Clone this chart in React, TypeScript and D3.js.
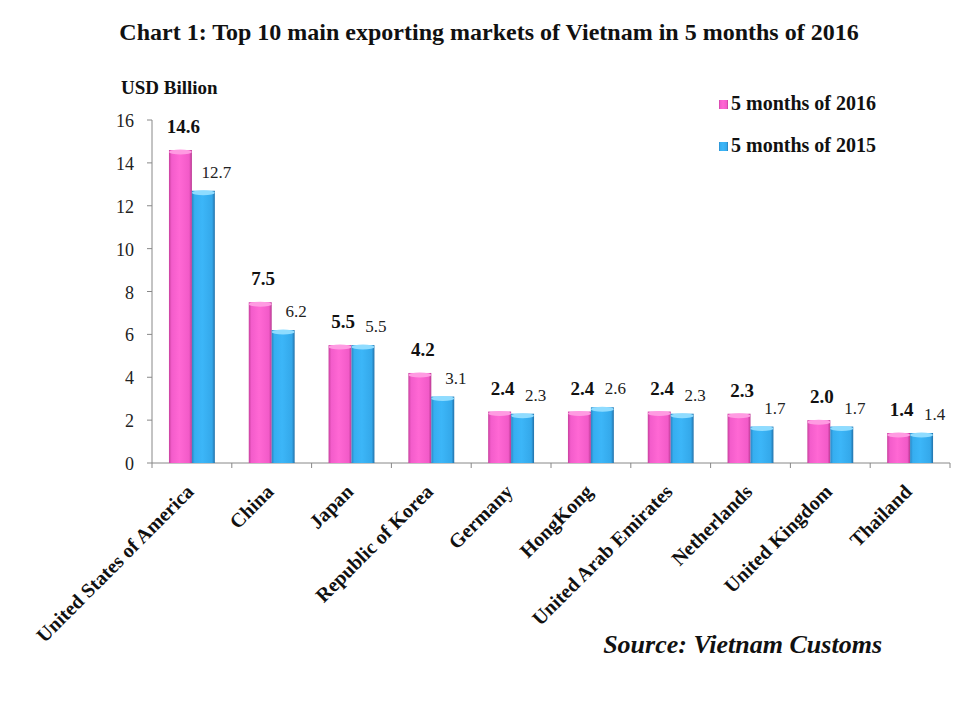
import React from "react";
import * as d3 from "d3";

const categories = [
  "United States of America",
  "China",
  "Japan",
  "Republic of Korea",
  "Germany",
  "HongKong",
  "United Arab Emirates",
  "Netherlands",
  "United Kingdom",
  "Thailand",
];
const values2016 = [14.6, 7.5, 5.5, 4.2, 2.4, 2.4, 2.4, 2.3, 2.0, 1.4];
const values2015 = [12.7, 6.2, 5.5, 3.1, 2.3, 2.6, 2.3, 1.7, 1.7, 1.4];
const seriesNames = ["5 months of 2016", "5 months of 2015"];
const yTicks = [0, 2, 4, 6, 8, 10, 12, 14, 16];

const FONT = "'Liberation Serif', 'Times New Roman', serif";

export default function App() {
  const W = 960, H = 701;
  const x0 = 152, x1 = 950, yTop = 120, yBot = 463;
  const x = d3.scaleBand<string>().domain(categories).range([x0, x1]).paddingInner(0).paddingOuter(0);
  const y = d3.scaleLinear().domain([0, 16]).range([yBot, yTop]);
  const step = x.step();
  const groupW = step * 0.575;
  const inner = d3.scaleBand<string>().domain(["a", "b"]).range([0, groupW]).padding(0);
  const barW = inner.bandwidth();
  const off = (step - groupW) / 2;
  const series = [values2016, values2015];
  const gradIds = ["gPink", "gBlue"];
  const capFill = ["#ff9be2", "#8fdcff"];

  return (
    <svg width={W} height={H} style={{ display: "block", position: "absolute", left: 0, top: 0 }}>
      <defs>
        <linearGradient id="gPink" x1="0" x2="1" y1="0" y2="0">
          <stop offset="0" stopColor="#c8409e" />
          <stop offset="0.12" stopColor="#f35ccb" />
          <stop offset="0.45" stopColor="#ff68d4" />
          <stop offset="0.88" stopColor="#f25ac8" />
          <stop offset="1" stopColor="#b83890" />
        </linearGradient>
        <linearGradient id="gBlue" x1="0" x2="1" y1="0" y2="0">
          <stop offset="0" stopColor="#2a86c4" />
          <stop offset="0.12" stopColor="#36aef0" />
          <stop offset="0.45" stopColor="#3cb6f8" />
          <stop offset="0.88" stopColor="#34a8ea" />
          <stop offset="1" stopColor="#2270a8" />
        </linearGradient>
      </defs>
      <rect width={W} height={H} fill="#fff" />
      <text x={489} y={40} textAnchor="middle" fontFamily={FONT} fontWeight="bold" fontSize={24} fill="#111">
        Chart 1: Top 10 main exporting markets of Vietnam in 5 months of 2016
      </text>
      <text x={121} y={94} fontFamily={FONT} fontWeight="bold" fontSize={19} fill="#111">USD Billion</text>

      {/* y axis */}
      <line x1={x0} x2={x0} y1={yTop} y2={yBot} stroke="#888" />
      {yTicks.map((t) => (
        <g key={t}>
          <line x1={x0 - 5} x2={x0} y1={y(t)} y2={y(t)} stroke="#888" />
          <text x={134} y={y(t) + 7} textAnchor="end" fontFamily={FONT} fontSize={18} fill="#222">{t}</text>
        </g>
      ))}
      {/* x axis */}
      <line x1={x0} x2={x1} y1={yBot} y2={yBot} stroke="#888" />
      {categories.map((c) => (
        <line key={c} x1={x(c)!} x2={x(c)!} y1={yBot} y2={yBot + 5} stroke="#888" />
      ))}
      <line x1={x1} x2={x1} y1={yBot} y2={yBot + 5} stroke="#888" />

      {/* bars */}
      {categories.map((c, i) => (
        <g key={c}>
          {series.map((vals, s) => {
            const bx = x(c)! + off + inner(s === 0 ? "a" : "b")!;
            const by = y(vals[i]);
            return (
              <g key={s}>
                <rect x={bx} y={by} width={barW} height={yBot - by} fill={`url(#${gradIds[s]})`} />
                <ellipse cx={bx + barW / 2} cy={by + 2} rx={barW / 2} ry={2.5} fill={capFill[s]} />
              </g>
            );
          })}
          <text x={x(c)! + off + barW / 2 + 3} y={y(values2016[i]) - 17} textAnchor="middle" fontFamily={FONT} fontWeight="bold" fontSize={19} fill="#111">
            {values2016[i].toFixed(1)}
          </text>
          <text x={x(c)! + off + barW * 1.5 + 13} y={y(values2015[i]) - 13} textAnchor="middle" fontFamily={FONT} fontSize={17} fill="#222">
            {values2015[i].toFixed(1)}
          </text>
          <text
            transform={`translate(${x(c)! + step / 2 + 3},${yBot + 30}) rotate(-45)`}
            textAnchor="end"
            fontFamily={FONT}
            fontWeight="bold"
            fontSize={20}
            fill="#111"
          >
            {c}
          </text>
        </g>
      ))}

      {/* legend */}
      {seriesNames.map((n, s) => (
        <g key={n} transform={`translate(719,${110 + s * 42})`}>
          <rect x={0} y={-10} width={9} height={9} fill={`url(#${gradIds[s]})`} />
          <text x={12} y={0} fontFamily={FONT} fontWeight="bold" fontSize={20} fill="#111">{n}</text>
        </g>
      ))}

      <text x={882} y={653} textAnchor="end" fontFamily={FONT} fontWeight="bold" fontStyle="italic" fontSize={26} fill="#111">
        Source: Vietnam Customs
      </text>
    </svg>
  );
}
